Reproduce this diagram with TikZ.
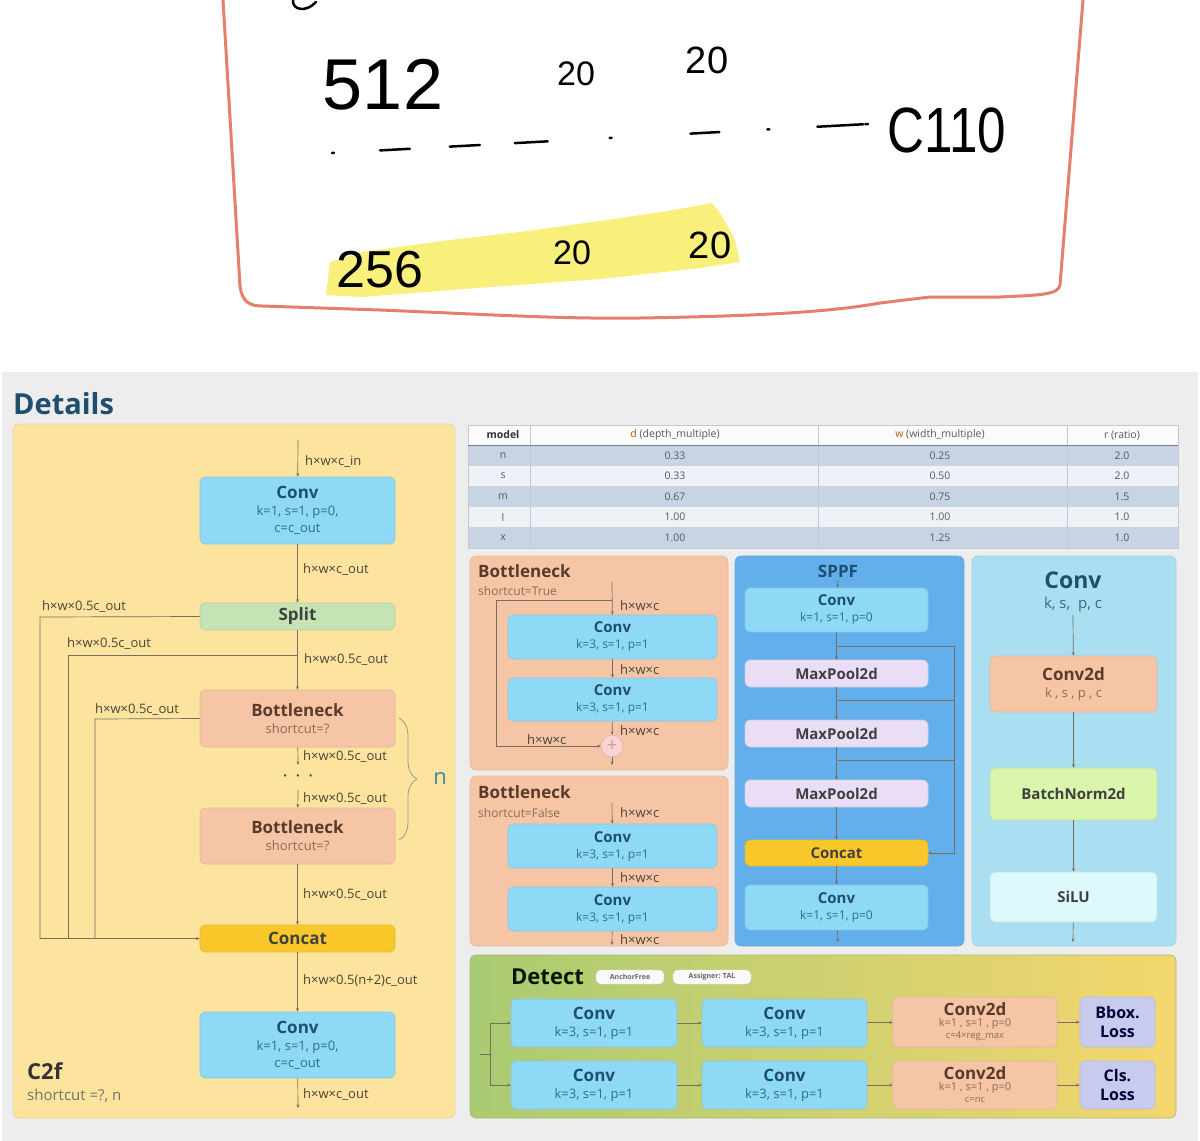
\documentclass[tikz,border=0pt]{standalone}
\usepackage{fontspec}
\setmainfont{Open Sans}
\newfontfamily\hand{Liberation Sans}
\usetikzlibrary{arrows.meta}
\usetikzlibrary{decorations.pathreplacing}

\definecolor{handred}{HTML}{E57F6C}
\definecolor{hilite}{HTML}{F8F07A}
\definecolor{pagegray}{HTML}{EDEDED}
\definecolor{c2fyellow}{HTML}{FCE49E}
\definecolor{convblue}{HTML}{8ED9F5}
\definecolor{splitgreen}{HTML}{C6E3B5}
\definecolor{bnsalmon}{HTML}{F6C5A6}
\definecolor{catyellow}{HTML}{F9C72A}
\definecolor{sppfblue}{HTML}{62AFEB}
\definecolor{mplav}{HTML}{EADDF6}
\definecolor{convpanel}{HTML}{A9DFF1}
\definecolor{bngreen}{HTML}{D9F6AC}
\definecolor{silucyan}{HTML}{DDF9FB}
\definecolor{losslav}{HTML}{C9CBEE}
\definecolor{detleft}{HTML}{A9CB72}
\definecolor{detright}{HTML}{F4D66E}
\definecolor{rowblue}{HTML}{C7D4E4}
\definecolor{rowlight}{HTML}{EEF2F7}
\definecolor{gridgray}{HTML}{C4C9D0}
\definecolor{linegray}{HTML}{766E60}
\definecolor{lblgray}{HTML}{4A4438}
\definecolor{convtxt}{HTML}{1D4F6E}
\definecolor{convsub}{HTML}{2E6C8C}
\definecolor{bntxt}{HTML}{5A3A2A}
\definecolor{bnsub}{HTML}{8A6A5A}
\definecolor{titleblue}{HTML}{1F4E6E}
\definecolor{nteal}{HTML}{3E8A9A}

\newcommand{\bigb}[1]{{\fontsize{17}{19}\selectfont\bfseries #1}}
\newcommand{\midb}[1]{{\fontsize{15}{17}\selectfont\bfseries #1}}

\begin{document}
\begin{tikzpicture}[x=1pt,y=-1pt]
\tikzset{
  blk/.style={draw=#1!80!gray, fill=#1, rounded corners=5pt, line width=0.6pt,
    inner sep=0pt, align=center, font=\fontsize{13}{17}\selectfont},
  panel/.style={draw=#1!85!gray, fill=#1, rounded corners=6pt, line width=0.6pt},
  lbl/.style={anchor=west, inner sep=0pt, text=lblgray, font=\fontsize{13}{15}\selectfont},
  flow/.style={draw=linegray, line width=0.7pt, -{Stealth[length=3.5pt,width=3pt]}},
  wire/.style={draw=linegray, line width=0.7pt},
  cell/.style={inner sep=0pt, text=black!65, font=\fontsize{10.5}{12}\selectfont},
  hw/.style={inner sep=0pt, font=\hand},
  pill/.style={draw=white!80!gray, fill=white!95!gray, rounded corners=5pt, inner sep=0pt,
    minimum height=14pt, text=black!60, font=\fontsize{7}{8}\selectfont\bfseries}
}
\useasboundingbox (0,0) rectangle (1200,1141);
\fill[white] (0,0) rectangle (1200,1141);

% nota manuscrita
\fill[hilite] (326,295) -- (330,262) -- (362,252) -- (450,240) -- (520,232) -- (600,221)
  -- (668,211) -- (712,203) -- (722,216) -- (735,240) -- (740,262) -- (700,268)
  -- (600,279) -- (450,290) -- (362,297) -- cycle;
\draw[handred, line width=3pt, line cap=round, line join=round]
  (223,0) -- (240,286) .. controls (242,302) and (250,306) .. (262,306)
  -- (380,310) .. controls (500,315) and (560,319) .. (640,318)
  .. controls (760,316) and (830,312) .. (880,303) -- (930,297) -- (1000,297)
  .. controls (1040,295) and (1058,295) .. (1060,285) -- (1083,0);
\draw[black, line width=2.5pt, line cap=round] (293,0) .. controls (292,10) and (306,13) .. (316,2);
\node (n512) at (383,85) [hw, font=\hand\fontsize{72}{72}\selectfont] {512};
\node (n20a) at (576,74) [hw, font=\hand\fontsize{34}{34}\selectfont] {20};
\node (n20b) at (707,60) [hw, font=\hand\fontsize{38}{38}\selectfont] {20};
\node (c110) at (947,130) [hw, xscale=0.8, font=\hand\fontsize{64}{64}\selectfont] {C110};
\coordinate (dashA) at (332,153);
\coordinate (dashB) at (868,124);
\draw[black, line width=2.5pt, line cap=round,
  dash pattern=on 2pt off 46pt on 30pt off 40pt on 30pt off 35pt on 33pt off 62pt on 2pt off 79pt on 29pt off 48pt on 2pt off 48pt on 46pt]
  (dashA) -- (dashB);
\node (n256) at (380,270) [hw, font=\hand\fontsize{52}{52}\selectfont] {256};
\node (n20c) at (572,253) [hw, font=\hand\fontsize{34}{34}\selectfont] {20};
\node (n20d) at (710,245) [hw, font=\hand\fontsize{38}{38}\selectfont] {20};

% fondo
\fill[pagegray] (2,372) rectangle (1198,1141);
\node (details) at (13,404) [anchor=west, inner sep=0pt, text=titleblue,
  font=\fontsize{29}{30}\selectfont\bfseries] {Details};

% C2f
\draw[panel=c2fyellow] (13,424) rectangle (455,1118);
\node (c2fconv1) at (297.5,510.5) [blk=convblue, text=convtxt, minimum width=195pt, minimum height=67pt]
  {\bigb{Conv}\\\textcolor{convsub}{k=1, s=1, p=0,}\\\textcolor{convsub}{c=c\_out}};
\node (split) at (297.5,616.5) [blk=splitgreen, text=black!75, minimum width=195pt, minimum height=27pt] {\bigb{Split}};
\node (c2fbn1) at (297.5,718.5) [blk=bnsalmon, text=bntxt, minimum width=195pt, minimum height=57pt]
  {\bigb{Bottleneck}\\\textcolor{bnsub}{shortcut=?}};
\node (c2fbn2) at (297.5,836) [blk=bnsalmon, text=bntxt, minimum width=195pt, minimum height=56pt]
  {\bigb{Bottleneck}\\\textcolor{bnsub}{shortcut=?}};
\node (c2fcat) at (297.5,938.5) [blk=catyellow, text=black!75, minimum width=195pt, minimum height=27pt] {\bigb{Concat}};
\node (c2fconv2) at (297.5,1045) [blk=convblue, text=convtxt, minimum width=195pt, minimum height=66pt]
  {\bigb{Conv}\\\textcolor{convsub}{k=1, s=1, p=0,}\\\textcolor{convsub}{c=c\_out}};
\coordinate (c2ftop) at (298,440);
\coordinate (c2fsplit2) at (298,655);
\coordinate (c2fbn1out) at (298,765);
\coordinate (c2fbn2in) at (298,790);
\coordinate (c2fend) at (298,1108);
\coordinate (c2fl1) at (40,617);
\coordinate (c2fl2) at (68,655);
\coordinate (c2fl2b) at (68,938);
\coordinate (c2fl3) at (95,719);
\coordinate (c2fl3b) at (95,938);
\draw[flow] (c2ftop) -- (c2fconv1);
\draw[flow] (c2fconv1) -- (split);
\draw[flow] (split) -- (c2fbn1);
\draw[flow] (c2fbn1) -- (c2fbn1out);
\draw[flow] (c2fbn2in) -- (c2fbn2);
\draw[flow] (c2fbn2) -- (c2fcat);
\draw[flow] (c2fcat) -- (c2fconv2);
\draw[flow] (c2fconv2) -- (c2fend);
\draw[flow] (split.west) -- (c2fl1) |- (c2fcat.west);
\draw[wire] (c2fsplit2) -- (c2fl2) -- (c2fl2b);
\draw[wire] (c2fbn1.west) -- (c2fl3) -- (c2fl3b);
\node (lb1) at (305,462) [lbl] {h×w×c\_in};
\node (lb2) at (303,570) [lbl] {h×w×c\_out};
\node (lb3) at (42,607) [lbl] {h×w×0.5c\_out};
\node (lb4) at (67,644) [lbl] {h×w×0.5c\_out};
\node (lb5) at (304,660) [lbl] {h×w×0.5c\_out};
\node (lb6) at (95,710) [lbl] {h×w×0.5c\_out};
\node (lb7) at (303,757) [lbl] {h×w×0.5c\_out};
\node (dots) at (298,777) [inner sep=0pt, text=black!70, font=\fontsize{10}{10}\selectfont] {•\hspace{9pt}•\hspace{9pt}•};
\node (lb8) at (303,799) [lbl] {h×w×0.5c\_out};
\node (lb9) at (303,895) [lbl] {h×w×0.5c\_out};
\node (lb10) at (303,981) [lbl] {h×w×0.5(n+2)c\_out};
\node (lb11) at (303,1095) [lbl] {h×w×c\_out};
\coordinate (braceA) at (399,718);
\coordinate (braceB) at (399,840);
\draw[draw=linegray!70, line width=0.8pt, decorate, decoration={brace, amplitude=18pt}] (braceA) -- (braceB);
\node (nrep) at (440,778) [inner sep=0pt, text=nteal, font=\fontsize{22}{22}\selectfont] {n};
\node (c2fname) at (27,1071) [anchor=west, inner sep=0pt, text=black!80, font=\fontsize{22}{24}\selectfont\bfseries] {C2f};
\node (c2fargs) at (27,1096) [anchor=west, inner sep=0pt, text=black!55, font=\fontsize{15}{17}\selectfont] {shortcut =?, n};

% tabla
\fill[white!97!gray] (468,425) rectangle (1178,445);
\foreach \m/\d/\w/\r [count=\i] in {n/0.33/0.25/2.0,s/0.33/0.50/2.0,m/0.67/0.75/1.5,l/1.00/1.00/1.0,x/1.00/1.25/1.0}{
  \pgfmathsetmacro{\yt}{445+20.6*(\i-1)}
  \pgfmathsetmacro{\yc}{\yt+10.3}
  \ifodd\i \def\rc{rowblue}\else\def\rc{rowlight}\fi
  \fill[\rc] (468,\yt) rectangle (1178,\yt+20.6);
  \node (tm\i) at (503,\yc) [cell] {\m};
  \node (td\i) at (675,\yc) [cell] {\d};
  \node (tw\i) at (940,\yc) [cell] {\w};
  \node (tr\i) at (1122,\yc) [cell] {\r};
}
\draw[gridgray, line width=0.6pt] (468,425) rectangle (1178,548);
\draw[gridgray, line width=0.6pt] (530,425) -- (530,548) (818,425) -- (818,548) (1067,425) -- (1067,548);
\draw[black!40!rowblue, line width=1pt] (468,445) -- (1178,445);
\node (hm) at (503,435) [cell, text=black!80, font=\fontsize{10.5}{12}\selectfont\bfseries] {model};
\node (hd) at (675,435) [cell] {\textcolor{orange!70!black}{d} (depth\_multiple)};
\node (hwid) at (940,435) [cell] {\textcolor{orange!70!black}{w} (width\_multiple)};
\node (hr) at (1122,435) [cell] {r (ratio)};

% Bottleneck shortcut=True
\draw[panel=bnsalmon] (470,556) rectangle (728,770);
\node (bttitle) at (478,571) [anchor=west, inner sep=0pt, text=bntxt, font=\fontsize{17}{19}\selectfont\bfseries] {Bottleneck};
\node (btsub) at (478,591) [anchor=west, inner sep=0pt, text=bnsub, font=\fontsize{12}{14}\selectfont] {shortcut=True};
\node (bt1) at (612.5,637) [blk=convblue, text=convtxt, minimum width=209pt, minimum height=44pt, font=\fontsize{12}{16}\selectfont]
  {\midb{Conv}\\\textcolor{convsub}{k=3, s=1, p=1}};
\node (bt2) at (612.5,699.5) [blk=convblue, text=convtxt, minimum width=209pt, minimum height=43pt, font=\fontsize{12}{16}\selectfont]
  {\midb{Conv}\\\textcolor{convsub}{k=3, s=1, p=1}};
\node (plus) at (612,746) [circle, draw=pink!60!gray, fill=pink!70!white, minimum size=22pt, inner sep=0pt,
  text=pink!50!gray, font=\fontsize{18}{18}\selectfont] {+};
\coordinate (bttop) at (612,582);
\coordinate (btsplit) at (612,600);
\coordinate (btskip) at (496,600);
\coordinate (btend) at (612,765);
\draw[flow] (bttop) -- (bt1);
\draw[flow] (bt1) -- (bt2);
\draw[flow] (bt2) -- (plus);
\draw[flow] (plus) -- (btend);
\draw[flow] (btsplit) -- (btskip) |- (plus.west);
\node (btl1) at (620,606) [lbl] {h×w×c};
\node (btl2) at (620,670) [lbl] {h×w×c};
\node (btl3) at (620,731) [lbl] {h×w×c};
\node (btl4) at (527,740) [lbl] {h×w×c};

% Bottleneck shortcut=False
\draw[panel=bnsalmon] (470,776) rectangle (728,946);
\node (bftitle) at (478,792) [anchor=west, inner sep=0pt, text=bntxt, font=\fontsize{17}{19}\selectfont\bfseries] {Bottleneck};
\node (bfsub) at (478,813) [anchor=west, inner sep=0pt, text=bnsub, font=\fontsize{12}{14}\selectfont] {shortcut=False};
\node (bf1) at (612.5,846) [blk=convblue, text=convtxt, minimum width=209pt, minimum height=44pt, font=\fontsize{12}{16}\selectfont]
  {\midb{Conv}\\\textcolor{convsub}{k=3, s=1, p=1}};
\node (bf2) at (612.5,909) [blk=convblue, text=convtxt, minimum width=209pt, minimum height=44pt, font=\fontsize{12}{16}\selectfont]
  {\midb{Conv}\\\textcolor{convsub}{k=3, s=1, p=1}};
\coordinate (bftop) at (612,803);
\coordinate (bfend) at (612,945);
\draw[flow] (bftop) -- (bf1);
\draw[flow] (bf1) -- (bf2);
\draw[flow] (bf2) -- (bfend);
\node (bfl1) at (620,813) [lbl] {h×w×c};
\node (bfl2) at (620,878) [lbl] {h×w×c};
\node (bfl3) at (620,940) [lbl] {h×w×c};

% SPPF
\draw[panel=sppfblue] (735,556) rectangle (964,946);
\node (sptitle) at (838,571) [inner sep=0pt, text=titleblue, font=\fontsize{17}{19}\selectfont\bfseries] {SPPF};
\node (sp1) at (836.5,610) [blk=convblue, text=convtxt, minimum width=183pt, minimum height=44pt, font=\fontsize{12}{16}\selectfont]
  {\midb{Conv}\\\textcolor{convsub}{k=1, s=1, p=0}};
\node (mp1) at (836.5,673.5) [blk=mplav, text=black!75, minimum width=183pt, minimum height=27pt] {\midb{MaxPool2d}};
\node (mp2) at (836.5,733.5) [blk=mplav, text=black!75, minimum width=183pt, minimum height=27pt] {\midb{MaxPool2d}};
\node (mp3) at (836.5,793.5) [blk=mplav, text=black!75, minimum width=183pt, minimum height=27pt] {\midb{MaxPool2d}};
\node (spcat) at (836.5,853) [blk=catyellow, text=black!75, minimum width=183pt, minimum height=26pt] {\midb{Concat}};
\node (sp2) at (836.5,907.5) [blk=convblue, text=convtxt, minimum width=183pt, minimum height=45pt, font=\fontsize{12}{16}\selectfont]
  {\midb{Conv}\\\textcolor{convsub}{k=1, s=1, p=0}};
\coordinate (sptop) at (838,580);
\coordinate (spend) at (838,942);
\coordinate (spb1) at (838,646);
\coordinate (spb1r) at (954,646);
\coordinate (spb2) at (838,700);
\coordinate (spb2r) at (954,700);
\coordinate (spb3) at (838,760);
\coordinate (spb3r) at (954,760);
\draw[flow] (sptop) -- (sp1);
\draw[flow] (sp1) -- (mp1);
\draw[flow] (mp1) -- (mp2);
\draw[flow] (mp2) -- (mp3);
\draw[flow] (mp3) -- (spcat);
\draw[flow] (spcat) -- (sp2);
\draw[flow] (sp2) -- (spend);
\draw[flow] (spb1) -- (spb1r) |- (spcat.east);
\draw[wire] (spb2) -- (spb2r);
\draw[wire] (spb3) -- (spb3r);

% Conv
\draw[panel=convpanel] (972,556) rectangle (1176,946);
\node (cvtitle) at (1073,580) [inner sep=0pt, text=titleblue, font=\fontsize{23}{25}\selectfont\bfseries] {Conv};
\node (cvsub) at (1073,605) [inner sep=0pt, text=convsub, font=\fontsize{15}{17}\selectfont] {k, s,\ \ p, c};
\node (cd) at (1073.5,684) [blk=bnsalmon, text=bntxt, minimum width=167pt, minimum height=56pt]
  {\bigb{Conv2d}\\\textcolor{bnsub}{k , s , p , c}};
\node (bnorm) at (1073.5,794) [blk=bngreen, text=black!75, minimum width=167pt, minimum height=52pt] {\midb{BatchNorm2d}};
\node (silu) at (1073.5,897) [blk=silucyan, text=black!75, minimum width=167pt, minimum height=50pt] {\midb{SiLU}};
\coordinate (cvtop) at (1073,615);
\coordinate (cvend) at (1073,942);
\draw[flow] (cvtop) -- (cd);
\draw[flow] (cd) -- (bnorm);
\draw[flow] (bnorm) -- (silu);
\draw[flow] (silu) -- (cvend);

% Detect
\shade[left color=detleft, right color=detright, rounded corners=6pt] (470,955) rectangle (1176,1118);
\draw[detleft!80!gray, line width=0.6pt, rounded corners=6pt] (470,955) rectangle (1176,1118);
\node (dettitle) at (511,977) [anchor=west, inner sep=0pt, text=black!75!green!40!black, font=\fontsize{22}{24}\selectfont\bfseries] {Detect};
\node (anchorfree) at (630,977) [pill, minimum width=68pt] {AnchorFree};
\node (assigner) at (712,977) [pill, minimum width=78pt] {Assigner: TAL};
\node (dc11) at (594,1023) [blk=convblue, text=convtxt, minimum width=166pt, minimum height=48pt, font=\fontsize{13}{17}\selectfont]
  {\bigb{Conv}\\\textcolor{convsub}{k=3, s=1, p=1}};
\node (dc12) at (784.5,1023) [blk=convblue, text=convtxt, minimum width=165pt, minimum height=48pt, font=\fontsize{13}{17}\selectfont]
  {\bigb{Conv}\\\textcolor{convsub}{k=3, s=1, p=1}};
\node (dd1) at (975,1022) [blk=bnsalmon, text=bntxt, minimum width=164pt, minimum height=50pt, font=\fontsize{11}{12}\selectfont]
  {\bigb{Conv2d}\\[-1pt]\textcolor{bnsub}{k=1 , s=1 , p=0}\\\textcolor{bnsub}{\fontsize{9.5}{10}\selectfont c=4×reg\_max}};
\node (loss1) at (1117.5,1022) [blk=losslav, text=black!65!blue!60!black, minimum width=75pt, minimum height=50pt, font=\fontsize{16}{19}\selectfont\bfseries]
  {Bbox.\\Loss};
\node (dc21) at (594,1085) [blk=convblue, text=convtxt, minimum width=166pt, minimum height=48pt, font=\fontsize{13}{17}\selectfont]
  {\bigb{Conv}\\\textcolor{convsub}{k=3, s=1, p=1}};
\node (dc22) at (784.5,1085) [blk=convblue, text=convtxt, minimum width=165pt, minimum height=48pt, font=\fontsize{13}{17}\selectfont]
  {\bigb{Conv}\\\textcolor{convsub}{k=3, s=1, p=1}};
\node (dd2) at (975,1085) [blk=bnsalmon, text=bntxt, minimum width=164pt, minimum height=48pt, font=\fontsize{11}{12}\selectfont]
  {\bigb{Conv2d}\\[-1pt]\textcolor{bnsub}{k=1 , s=1 , p=0}\\\textcolor{bnsub}{\fontsize{9.5}{10}\selectfont c=nc}};
\node (loss2) at (1117.5,1085) [blk=losslav, text=black!65!blue!60!black, minimum width=75pt, minimum height=48pt, font=\fontsize{16}{19}\selectfont\bfseries]
  {Cls.\\Loss};
\coordinate (detin) at (480,1054);
\coordinate (detsplit) at (490,1054);
\coordinate (detup) at (490,1023);
\coordinate (detdown) at (490,1085);
\draw[wire] (detin) -- (detsplit);
\draw[wire] (detup) -- (detdown);
\draw[flow] (detup) -- (dc11);
\draw[flow] (detdown) -- (dc21);
\draw[flow] (dc11) -- (dc12);
\draw[flow] (dc12) -- (dd1);
\draw[flow] (dd1) -- (loss1);
\draw[flow] (dc21) -- (dc22);
\draw[flow] (dc22) -- (dd2);
\draw[flow] (dd2) -- (loss2);

\end{tikzpicture}
\end{document}
